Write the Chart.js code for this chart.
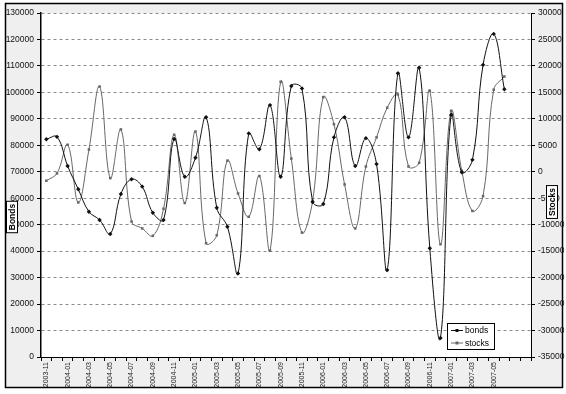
<!DOCTYPE html>
<html>
<head>
<meta charset="utf-8">
<script src="https://cdn.jsdelivr.net/npm/chart.js@4.4.1/dist/chart.umd.min.js"></script>
<style>
  html, body { margin: 0; padding: 0; background: #fff; }
  #wrap { width: 566px; height: 394px; }
</style>
</head>
<body>
<div id="wrap"><canvas id="chart" width="566" height="394"></canvas></div>
<script>
// months on the category axis (two trailing empty slots, as in the original sheet)
const months = [
  '2003-11', '2003-12',
  '2004-01', '2004-02', '2004-03', '2004-04', '2004-05', '2004-06',
  '2004-07', '2004-08', '2004-09', '2004-10', '2004-11', '2004-12',
  '2005-01', '2005-02', '2005-03', '2005-04', '2005-05', '2005-06',
  '2005-07', '2005-08', '2005-09', '2005-10', '2005-11', '2005-12',
  '2006-01', '2006-02', '2006-03', '2006-04', '2006-05', '2006-06',
  '2006-07', '2006-08', '2006-09', '2006-10', '2006-11', '2006-12',
  '2007-01', '2007-02', '2007-03', '2007-04', '2007-05', '2007-06',
  '', ''
];

// left axis
const bonds = [
  82300, 83200, 72200, 63400, 54900, 51800, 46500, 61600, 67200, 64400,
  54500, 51800, 82400, 68100, 75300, 90600, 56400, 49200, 31600, 84500,
  78500, 95200, 68100, 102400, 101500, 58600, 57800, 83000, 90600, 72200,
  82700, 72900, 32900, 107200, 83000, 109300, 41100, 7200, 91500, 69800,
  74500, 110400, 122100, 101200
];

// right axis
const stocks = [
  -1700, -300, 5100, -5800, 4200, 16100, -1200, 8000, -9400, -10700,
  -12100, -7000, 7000, -5900, 7600, -13500, -12000, 2100, -4100, -8500,
  -800, -14900, 17000, 2500, -11500, -5500, 14100, 9000, -2400, -10700,
  1000, 6500, 12100, 14600, 1000, 1700, 15300, -13700, 11500, 200,
  -7400, -4600, 15500, 18000
];

const bondAxis = { min: 0, max: 130000, step: 10000 };
const stockAxis = { min: -35000, max: 30000, step: 5000 };

const FONT = "'Liberation Sans', Arial, sans-serif";
const DARK = '#111111';
const GREY = '#686868';

// frame + grey chart background, white plot area
const backdrop = {
  id: 'backdrop',
  beforeDraw(chart) {
    const { ctx, chartArea: a } = chart;
    ctx.save();
    ctx.fillStyle = '#ffffff';
    ctx.fillRect(0, 0, chart.width, chart.height);
    ctx.fillStyle = '#efefef';
    ctx.fillRect(5, 3, 558, 385);
    ctx.strokeStyle = '#000';
    ctx.lineWidth = 1.5;
    ctx.strokeRect(5.5, 3.5, 557, 384);
    ctx.fillStyle = '#ffffff';
    ctx.fillRect(a.left, a.top, a.right - a.left, a.bottom - a.top);
    ctx.restore();
  }
};

// boxed, rotated axis titles
function boxedTitle(ctx, text, cx, cy) {
  ctx.save();
  ctx.translate(cx, cy);
  ctx.rotate(-Math.PI / 2);
  ctx.font = 'bold 8.5px ' + FONT;
  const w = ctx.measureText(text).width + 5;
  const h = 11;
  ctx.fillStyle = '#fff';
  ctx.fillRect(-w / 2, -h / 2, w, h);
  ctx.strokeStyle = '#000';
  ctx.lineWidth = 1;
  ctx.strokeRect(-w / 2, -h / 2, w, h);
  ctx.fillStyle = '#000';
  ctx.textAlign = 'center';
  ctx.textBaseline = 'middle';
  ctx.fillText(text, 0, 0.5);
  ctx.restore();
}

const titles = {
  id: 'titles',
  afterDraw(chart) {
    boxedTitle(chart.ctx, 'Bonds', 12, 217);
    boxedTitle(chart.ctx, 'Stocks', 552, 202);
  }
};

// small legend box inside the plot area, bottom right
const legendBox = {
  id: 'legendBox',
  afterDraw(chart) {
    const ctx = chart.ctx;
    ctx.save();
    ctx.fillStyle = '#fff';
    ctx.fillRect(447.5, 323.5, 47, 26);
    ctx.strokeStyle = '#000';
    ctx.lineWidth = 1;
    ctx.strokeRect(447.5, 323.5, 47, 26);
    chart.data.datasets.forEach((ds, i) => {
      const y = 330.5 + i * 12.5;
      ctx.strokeStyle = ds.borderColor;
      ctx.beginPath();
      ctx.moveTo(451, y);
      ctx.lineTo(463, y);
      ctx.stroke();
      ctx.fillStyle = ds.borderColor;
      ctx.fillRect(455.5, y - 1.5, 3, 3);
      ctx.fillStyle = '#000';
      ctx.font = '8.5px ' + FONT;
      ctx.textBaseline = 'middle';
      ctx.fillText(ds.label, 465, y + 0.5);
    });
    ctx.restore();
  }
};

new Chart(document.getElementById('chart'), {
  type: 'line',
  data: {
    labels: months,
    datasets: [
      {
        label: 'bonds',
        data: bonds,
        yAxisID: 'y',
        borderColor: DARK,
        backgroundColor: DARK,
        borderWidth: 1,
        pointStyle: 'rectRot',
        pointRadius: 2.2,
        pointBorderWidth: 0,
        tension: 0.4,
        fill: false
      },
      {
        label: 'stocks',
        data: stocks,
        yAxisID: 'y2',
        borderColor: GREY,
        backgroundColor: GREY,
        borderWidth: 1,
        pointStyle: 'rect',
        pointRadius: 1.8,
        pointBorderWidth: 0,
        tension: 0.4,
        fill: false
      }
    ]
  },
  options: {
    responsive: false,
    animation: false,
    devicePixelRatio: 1,
    layout: { padding: { top: 13, left: 0, right: 0, bottom: 0 } },
    plugins: {
      legend: { display: false },
      tooltip: { enabled: false }
    },
    scales: {
      x: {
        type: 'category',
        offset: true,
        grid: { offset: true, drawOnChartArea: false, tickLength: 4, tickColor: '#000' },
        border: { display: true, color: '#000', width: 1 },
        ticks: {
          autoSkip: false,
          maxRotation: 90,
          minRotation: 90,
          padding: 1,
          color: '#222',
          font: { family: FONT, size: 7 },
          callback: (v, i) => (i % 2 === 0 ? months[i] : '')
        },
        afterFit: s => { s.height = 37; }
      },
      y: {
        position: 'left',
        min: bondAxis.min,
        max: bondAxis.max,
        ticks: {
          stepSize: bondAxis.step,
          padding: 3,
          color: '#111',
          font: { family: FONT, size: 8.5 },
          callback: v => String(v)
        },
        grid: {
          color: c => (c.tick && c.tick.value === 0 ? 'rgba(0,0,0,0)' : '#8c8c8c'),
          tickColor: '#000',
          tickLength: 4,
          lineWidth: 1
        },
        border: { color: '#000', width: 1.5, dash: [3, 3] },
        afterFit: s => { s.width = 41; }
      },
      y2: {
        position: 'right',
        min: stockAxis.min,
        max: stockAxis.max,
        ticks: {
          stepSize: stockAxis.step,
          padding: 3,
          color: '#111',
          font: { family: FONT, size: 8.5 },
          callback: v => String(v)
        },
        grid: { drawOnChartArea: false, tickColor: '#000', tickLength: 4 },
        border: { color: '#000', width: 1 },
        afterFit: s => { s.width = 35; }
      }
    }
  },
  plugins: [backdrop, titles, legendBox]
});
</script>
</body>
</html>
